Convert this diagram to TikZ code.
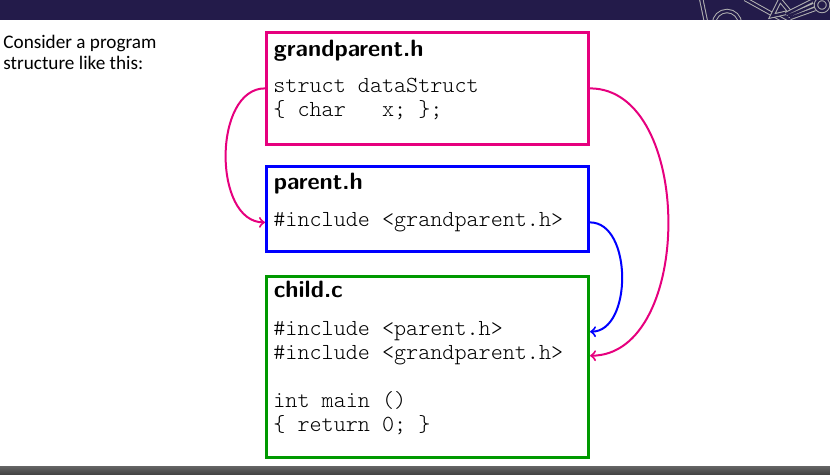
\documentclass[tikz,border=0pt]{standalone}
\usepackage{fontspec}
\newfontfamily\carlito{Carlito}
\newfontfamily\lmlight{Latin Modern Mono Light}
\usepackage{tikz}

\definecolor{gpPink}{RGB}{230,0,126}
\definecolor{parBlue}{RGB}{0,0,255}
\definecolor{chdGreen}{RGB}{0,153,0}
\definecolor{barNavy}{RGB}{35,27,74}

\begin{document}
\begin{tikzpicture}[x=.5pt,y=-.5pt,
	box/.style={shape=rectangle,line width=1.5pt,minimum width=161pt,inner sep=0pt},
	title/.style={anchor=base west,inner sep=0pt,font=\fontsize{11.8}{12}\selectfont\sffamily\bfseries},
	code/.style={anchor=base west,inner sep=0pt,font=\lmlight\fontsize{11.5}{12}\selectfont},
	intro/.style={anchor=base west,inner sep=0pt,font=\carlito\fontsize{9.6}{11}\selectfont},
	logo/.style={draw=gray!60,double=barNavy,double distance=1.2pt,line width=.5pt}]
			\useasboundingbox (0,0) rectangle (830,475);
			\fill[barNavy] (0,0) rectangle (830,20);
			\shade[top color=black!62,bottom color=black!75] (0,467) rectangle (830,475);
			
			\begin{scope}
			\clip (0,0) rectangle (830,20);
			\path[logo] (701,-2) -- (706,22);
			\path[logo] (727,24) circle (13);
			\path[logo] (745,-1) -- (790,24);
			\path[logo] (772,16) -- (780,0) -- (790,12) -- cycle;
			\path[logo] (786,14) -- (812,1) (788,16) -- (814,5) (790,18) -- (815,9);
			\path[logo] (822,5) circle (6);
			\end{scope}
			
			\node[intro] (intro1) at (3,48.3) {Consider a program};
			\node[intro] (intro2) at (3,70) {structure like this:};
			
			\node[box,draw=gpPink,minimum height=55.75pt] (gp) at (427.5,88.75) {};
			\node[box,draw=parBlue,minimum height=42.75pt] (par) at (427.5,209.25) {};
			\node[box,draw=chdGreen,minimum height=90.75pt] (chd) at (427.5,367.25) {};
			
			\node[title] (gpT) at (273.5,56.7) {grandparent.h};
			\node[code] (gpA) at (273,92.7) {struct dataStruct};
			\node[code] (gpB) at (273,116.7) {\{ char\ \ \ x; \};};
			
			\node[title] (parT) at (273.5,190) {parent.h};
			\node[code] (parA) at (273,226.7) {\#include <grandparent.h>};
			
			\node[title] (chdT) at (273.5,298) {child.c};
			\node[code] (chdA) at (273,336) {\#include <parent.h>};
			\node[code] (chdB) at (273,360) {\#include <grandparent.h>};
			\node[code] (chdC) at (273,408) {int main ()};
			\node[code] (chdD) at (273,432) {\{ return 0; \}};
			
			\path [->, line width=1pt, gpPink] (gp.west |- gpA.mid) edge[out=180,in=180] (par.west |- parA.mid);
			\path [->, line width=1pt, gpPink] (gp.east |- gpA.mid) edge[out=0,in=0] (chd.east |- chdB.mid);
			\path [->, line width=1pt, parBlue] (par.east |- parA.mid) edge[out=0,in=0] (chd.east |- chdA.mid);
			\end{tikzpicture}
\end{document}
